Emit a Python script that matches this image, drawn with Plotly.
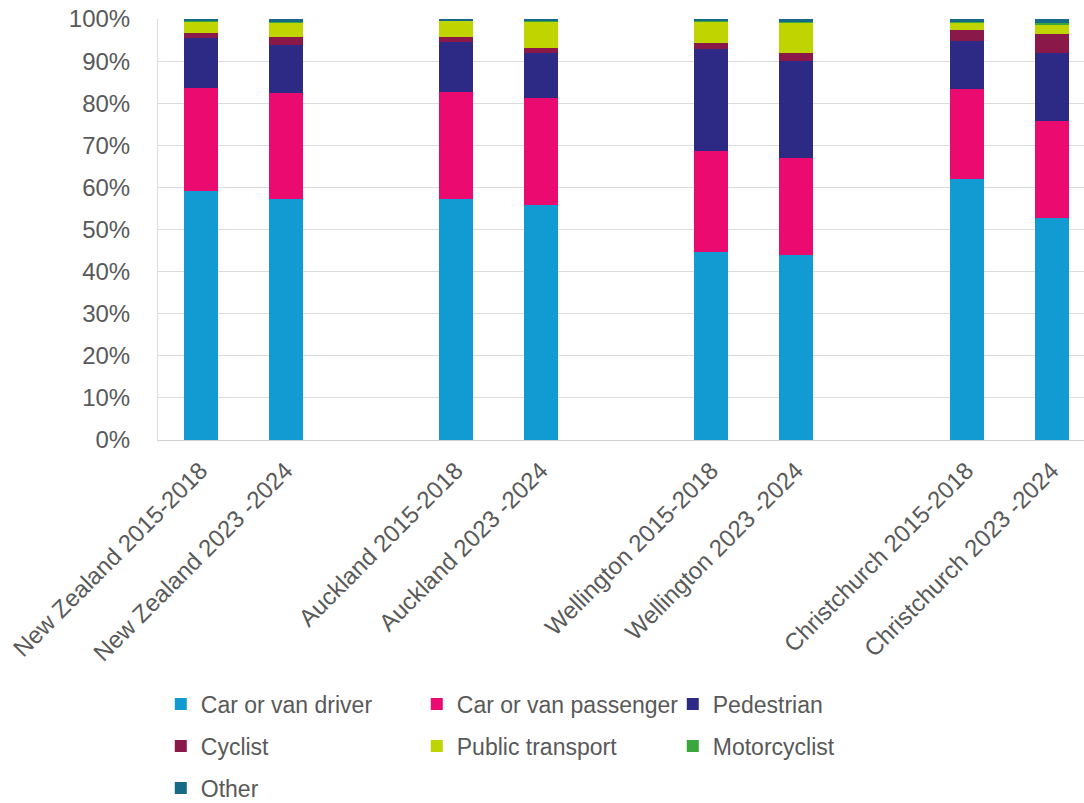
import plotly.graph_objects as go

categories = [
    "New Zealand 2015-2018", "New Zealand 2023 -2024",
    "Auckland 2015-2018", "Auckland 2023 -2024",
    "Wellington 2015-2018", "Wellington 2023 -2024",
    "Christchurch 2015-2018", "Christchurch 2023 -2024",
]
# slot positions (gaps between region pairs)
positions = [0, 1, 3, 4, 6, 7, 9, 10]

car_driver = [59.2, 57.2, 57.2, 55.8, 44.6, 43.9, 62.0, 52.8]
car_passenger = [24.3, 25.2, 25.5, 25.4, 24.0, 23.0, 21.4, 23.0]
pedestrian = [11.9, 11.4, 11.9, 10.7, 24.3, 23.2, 11.4, 16.1]
cyclist = [1.3, 2.0, 1.1, 1.3, 1.3, 1.9, 2.7, 4.5]
public_transport = [2.7, 3.4, 3.9, 6.2, 5.2, 7.1, 1.6, 2.4]
motorcyclist = [0.2, 0.2, 0.1, 0.1, 0.1, 0.1, 0.3, 0.3]
other = [0.4, 0.6, 0.3, 0.5, 0.5, 0.8, 0.6, 0.9]

series = [
    ("Car or van driver", car_driver, "#119bd2", "legend"),
    ("Car or van passenger", car_passenger, "#eb0a6f", "legend"),
    ("Pedestrian", pedestrian, "#2c2a85", "legend"),
    ("Cyclist", cyclist, "#8a1848", "legend2"),
    ("Public transport", public_transport, "#c0d400", "legend2"),
    ("Motorcyclist", motorcyclist, "#3aa63c", "legend2"),
    ("Other", other, "#176a87", "legend3"),
]

FONT = "Liberation Sans, Arial, sans-serif"
TXT = "#595959"
FS = 24

fig = go.Figure()
for name, vals, color, lg in series:
    fig.add_trace(go.Bar(
        x=positions, y=vals, name=name, width=0.40,
        marker=dict(color=color, line=dict(width=0)),
        legend=lg,
    ))

leg_common = dict(
    orientation="h", xanchor="left", yanchor="middle",
    font=dict(family=FONT, size=23, color=TXT),
    entrywidth=211, entrywidthmode="pixels",
    bgcolor="rgba(0,0,0,0)", itemwidth=30, traceorder="normal",
)

fig.update_layout(
    barmode="stack",
    width=1084, height=803,
    margin=dict(l=158, r=0, t=19, b=363, autoexpand=False),
    paper_bgcolor="white", plot_bgcolor="white",
    font=dict(family=FONT, size=FS, color=TXT),
    bargap=0,
    xaxis=dict(
        range=[-0.5, 10.38], automargin=False,
        tickmode="array", tickvals=positions, ticktext=categories,
        tickangle=-45, showgrid=False, zeroline=False,
        showline=True, linecolor="#d0d0d0", linewidth=1,
        ticks="", ticklabelstandoff=6,
        tickfont=dict(family=FONT, size=FS, color=TXT),
    ),
    yaxis=dict(
        range=[0, 100], dtick=10, ticksuffix="%", automargin=False,
        showgrid=True, gridcolor="#dcdcdc", gridwidth=1,
        zeroline=False, showline=True, linecolor="#dcdcdc", linewidth=1,
        ticks="", ticklabelstandoff=22,
        tickfont=dict(family=FONT, size=FS, color=TXT),
    ),
    legend=dict(x=0.003, y=-0.627, **leg_common),
    legend2=dict(x=0.003, y=-0.727, **leg_common),
    legend3=dict(x=0.003, y=-0.827, **leg_common),
    showlegend=True,
)

fig.write_html("out.html")
